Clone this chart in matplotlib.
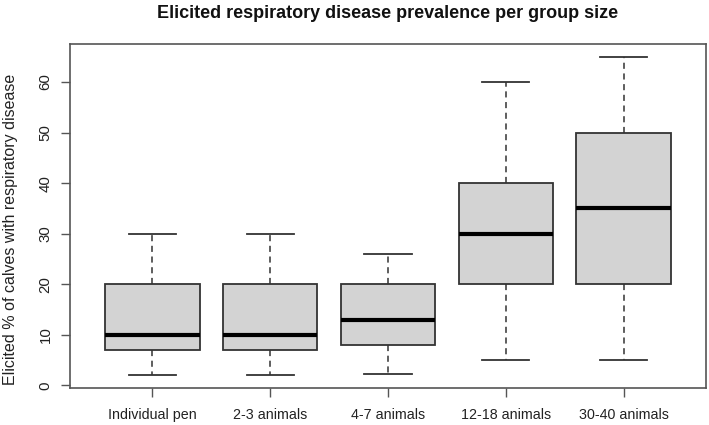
import matplotlib
matplotlib.use("Agg")
import matplotlib.pyplot as plt

categories = ["Individual pen", "2-3 animals", "4-7 animals", "12-18 animals", "30-40 animals"]
whisker_low = [2, 2, 2.2, 5, 5]
q1 = [7, 7, 8, 20, 20]
median = [10, 10, 13, 30, 35]
q3 = [20, 20, 20, 40, 50]
whisker_high = [30, 30, 26, 60, 65]
y_ticks = [0, 10, 20, 30, 40, 50, 60]

plt.rcParams['font.family'] = ['Liberation Sans', 'DejaVu Sans']

W, H = 709, 425
fig = plt.figure(figsize=(W / 100, H / 100), dpi=100)
ax = fig.add_axes([70 / W, (H - 388) / H, 636 / W, 344 / H])

stats = []
for i, c in enumerate(categories):
    stats.append(dict(label=c, whislo=whisker_low[i], q1=q1[i], med=median[i],
                      q3=q3[i], whishi=whisker_high[i], fliers=[]))

edge = '#333333'
ax.bxp(stats, positions=range(1, len(categories) + 1), widths=0.8,
       patch_artist=True, showfliers=False,
       boxprops=dict(facecolor='#d3d3d3', edgecolor=edge, linewidth=1.3),
       medianprops=dict(color='black', linewidth=3, solid_capstyle='butt'),
       whiskerprops=dict(color=edge, linewidth=1.1, linestyle=(0, (4, 3))),
       capprops=dict(color=edge, linewidth=1.3),
       capwidths=0.4)

ax.set_xlim(0.3, 5.7)
ax.set_ylim(-0.52, 67.52)
ax.set_yticks(y_ticks)
ax.set_yticklabels([str(v) for v in y_ticks], rotation=90, va='center')
ax.set_xticks(range(1, len(categories) + 1))
ax.set_xticklabels(categories)

for s in ax.spines.values():
    s.set_color('#555555')
    s.set_linewidth(1.2)
ax.tick_params(axis='both', length=6.5, width=1.0, color='#555555',
               labelcolor='#222222')
ax.tick_params(axis='x', labelsize=10.3, pad=8)
ax.tick_params(axis='y', labelsize=10.8, pad=6)

fig.text(11 / W, 1 - 229 / H, "Elicited % of calves with respiratory disease",
         rotation=90, ha='center', va='center', fontsize=11.5, color='#222222')
fig.text(388 / W, 1 - 14 / H, "Elicited respiratory disease prevalence per group size",
         ha='center', va='center', fontsize=13, fontweight='bold', color='#111111')

fig.savefig("out.png", dpi=100)
